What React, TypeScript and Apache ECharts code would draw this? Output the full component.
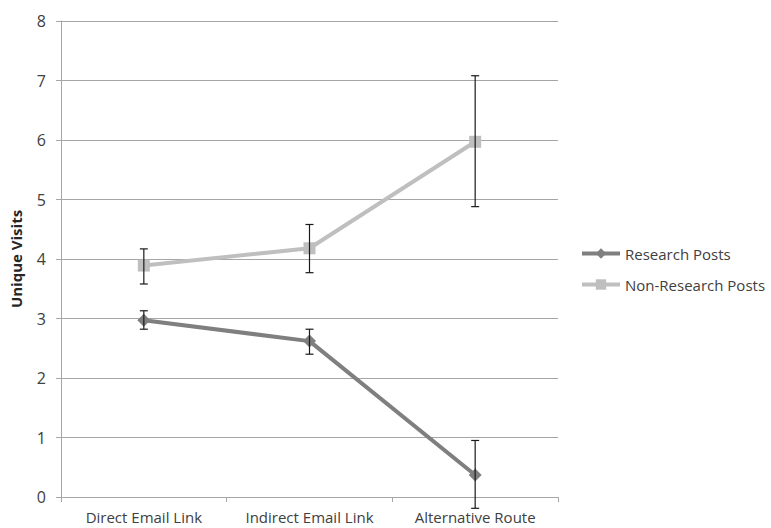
import React, { useEffect, useRef } from "react";
import * as echarts from "echarts";

const categories = ["Direct Email Link", "Indirect Email Link", "Alternative Route"];
const researchValues = [2.97, 2.62, 0.37];
const researchLow = [2.82, 2.4, -0.19];
const researchHigh = [3.13, 2.82, 0.95];
const nonResearchValues = [3.89, 4.18, 5.97];
const nonResearchLow = [3.58, 3.77, 4.88];
const nonResearchHigh = [4.17, 4.58, 7.08];
const yTicks = [0, 1, 2, 3, 4, 5, 6, 7, 8];

const FONT = "'Open Sans', 'Noto Sans', sans-serif";

function errorRenderItem(params: any, api: any) {
  const x = api.value(0);
  const lo = api.coord([x, api.value(1)]);
  const hi = api.coord([x, api.value(2)]);
  const cap = 4;
  const style = { stroke: "#1a1a1a", lineWidth: 1.2 };
  return {
    type: "group",
    children: [
      { type: "line", shape: { x1: lo[0], y1: lo[1], x2: hi[0], y2: hi[1] }, style },
      { type: "line", shape: { x1: lo[0] - cap, y1: lo[1], x2: lo[0] + cap, y2: lo[1] }, style },
      { type: "line", shape: { x1: hi[0] - cap, y1: hi[1], x2: hi[0] + cap, y2: hi[1] }, style },
    ],
  };
}

export default function App() {
  const ref = useRef<HTMLDivElement>(null);
  useEffect(() => {
    if (!ref.current) return;
    const chart = echarts.init(ref.current, null, { renderer: "svg" });
    chart.setOption({
      animation: false,
      textStyle: { fontFamily: FONT },
      grid: { left: 61, top: 21, right: 213, bottom: 31, containLabel: false },
      legend: {
        orient: "vertical",
        left: 575,
        top: 241,
        itemWidth: 38,
        itemHeight: 13,
        itemGap: 16,
        lineStyle: { width: 4 },
        textStyle: { fontSize: 15, color: "#404040", fontFamily: FONT },
        data: ["Research Posts", "Non-Research Posts"],
      },
      xAxis: {
        type: "category",
        data: categories,
        boundaryGap: true,
        axisLine: { show: true, lineStyle: { color: "#a6a6a6", width: 1 } },
        axisTick: { show: true, length: 5, lineStyle: { color: "#a6a6a6" } },
        axisLabel: { fontSize: 15, color: "#404040", margin: 12, fontFamily: FONT, interval: 0 },
        splitLine: { show: false },
      },
      yAxis: {
        type: "value",
        min: yTicks[0],
        max: yTicks[yTicks.length - 1],
        interval: 1,
        name: "Unique Visits",
        nameLocation: "middle",
        nameGap: 38,
        nameTextStyle: { fontSize: 15, fontWeight: "bold", color: "#262626", fontFamily: FONT },
        axisLine: { show: true, lineStyle: { color: "#a6a6a6", width: 1 } },
        axisTick: { show: true, length: 5, lineStyle: { color: "#a6a6a6" } },
        axisLabel: { fontSize: 16, color: "#404040", margin: 15, fontFamily: FONT },
        splitLine: { show: true, lineStyle: { color: "#a6a6a6", width: 1 } },
      },
      series: [
        {
          name: "Research Posts",
          type: "line",
          data: researchValues,
          symbol: "diamond",
          symbolSize: 13,
          lineStyle: { color: "#7f7f7f", width: 4 },
          itemStyle: { color: "#7f7f7f" },
          z: 3,
        },
        {
          name: "Non-Research Posts",
          type: "line",
          data: nonResearchValues,
          symbol: "rect",
          symbolSize: 12,
          lineStyle: { color: "#bfbfbf", width: 4 },
          itemStyle: { color: "#bfbfbf" },
          z: 3,
        },
        {
          type: "custom",
          renderItem: errorRenderItem,
          data: categories.map((_, i) => [i, researchLow[i], researchHigh[i]]),
          encode: { x: 0, y: [1, 2] },
          z: 5,
          silent: true,
        },
        {
          type: "custom",
          renderItem: errorRenderItem,
          data: categories.map((_, i) => [i, nonResearchLow[i], nonResearchHigh[i]]),
          encode: { x: 0, y: [1, 2] },
          z: 5,
          silent: true,
        },
      ],
    });
    return () => chart.dispose();
  }, []);
  return <div ref={ref} style={{ width: 771, height: 528, position: "absolute", left: 0, top: 0 }} />;
}
